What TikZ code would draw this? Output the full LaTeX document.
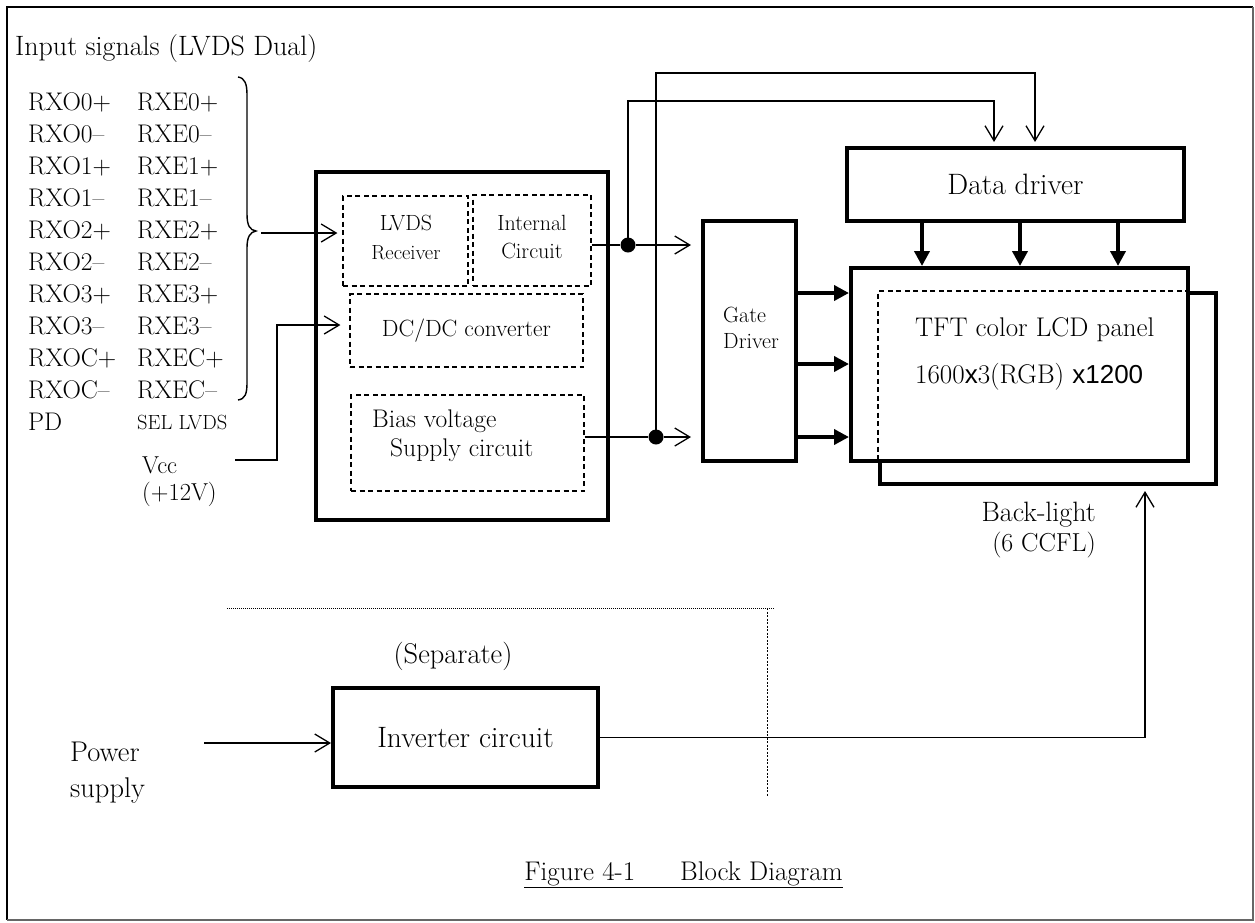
\documentclass[tikz,border=0pt]{standalone}
\usepackage{fontspec}
\newfontfamily\sansf{Liberation Sans}
\usetikzlibrary{arrows.meta,calc}
\newcommand\fsz[1]{\fontsize{#1}{#1}\selectfont}
\begin{document}
\begin{tikzpicture}[x=1pt,y=-1pt,
  txt/.style={inner sep=0pt, anchor=base west},
  ctxt/.style={inner sep=0pt, anchor=base},
  sig/.style={txt, font=\fsz{25.5}},
  thickbox/.style={draw, line width=4pt, inner sep=0pt, fill=white},
  dbox/.style={draw, line width=1.2pt, dash pattern=on 5pt off 3.5pt, inner sep=0pt},
  plain/.style={line width=1.3pt},
  conn/.style={line width=1.3pt, -{Straight Barb[length=15pt,width=18pt]}},
  fat/.style={line width=4pt, -{Triangle[length=15pt,width=15pt]}},
  jdot/.style={circle, fill, inner sep=0pt, minimum size=15pt},
  hid/.style={line width=1.2pt, dash pattern=on 5pt off 3.5pt}
]
\useasboundingbox (0,0) rectangle (1255,922);
% frame
\draw[line width=2.5pt] (1253,7) -- (7,7) -- (7,920);
\draw[line width=1.5pt, black!60] (1253,7) -- (1253,920) -- (7,920);

% input signals
\node[txt, font=\fsz{28}] (title) at (15,55) {Input signals (LVDS Dual)};
\foreach \s [count=\i from 0] in {0+,0--,1+,1--,2+,2--,3+,3--,C+,C--} {
  \node[sig] (ro\i) at (28,110+32*\i) {RXO\s};
  \node[sig] (re\i) at (137,110+32*\i) {RXE\s};
}
\node[sig] (pd) at (28,430) {PD};
\node[txt, font=\fsz{20.5}] (sel) at (137,429) {SEL LVDS};
\node[txt, font=\fsz{24.5}] (vcc) at (142,473) {Vcc};
\node[txt, font=\fsz{24.5}] (v12) at (142,500) {(+12V)};

% brace
\draw[line width=1.4pt] (238,77) .. controls (245,78) and (247,84) .. (247,95)
  -- (247,214) .. controls (247,226) and (250,230) .. (256,231)
  .. controls (250,232) and (247,237) .. (247,248)
  -- (247,383) .. controls (247,394) and (245,399) .. (238,400);
\coordinate (bt) at (261,233);

% main box
\node[thickbox, minimum width=292pt, minimum height=348pt] (main) at (462,346) {};
\node[dbox, minimum width=125pt, minimum height=90pt] (lvds) at (405.5,241) {};
\node[dbox, minimum width=118pt, minimum height=91pt] (intc) at (532,240.5) {};
\node[dbox, minimum width=233pt, minimum height=73pt, font=\fsz{23.5}] (dcdc) at (466.5,330.5) {DC/DC converter};
\node[dbox, minimum width=233pt, minimum height=96pt] (bias) at (467.5,443) {};
\node[ctxt, font=\fsz{22}] (tl1) at (406,230.5) {LVDS};
\node[ctxt, font=\fsz{20.5}] (tl2) at (406,259.5) {Receiver};
\node[ctxt, font=\fsz{22}] (ti1) at (532,230) {Internal};
\node[ctxt, font=\fsz{22}] (ti2) at (532,258.5) {Circuit};
\node[txt, font=\fsz{25.5}] (tb1) at (372,427.5) {Bias voltage};
\node[txt, font=\fsz{25.5}] (tb2) at (390,456.5) {Supply circuit};

% gate driver, data driver, panel
\node[thickbox, minimum width=93pt, minimum height=240pt] (gate) at (749.5,341) {};
\node[txt, font=\fsz{22}] (tg1) at (723,322.5) {Gate};
\node[txt, font=\fsz{22}] (tg2) at (723,348.5) {Driver};
\node[thickbox, minimum width=337pt, minimum height=73pt, font=\fsz{29.5}] (data) at (1015.5,184.5) {Data driver};
\node[thickbox, minimum width=336pt, minimum height=191pt] (blight) at (1048,388.5) {};
\node[thickbox, minimum width=337pt, minimum height=193pt] (tft) at (1019.5,364.5) {};
\draw[hid] (tft.east |- blight.north) -- (blight.north west) -- (blight.west |- tft.south);
\node[txt, font=\fsz{27}] (tt1) at (915,336.5) {TFT color LCD panel};
\node[txt, font=\fsz{27}] (tt2) at (915,383.5) {1600{\sansf\fsz{26}x}3(RGB) {\sansf\fsz{26}x1200}};
\node[txt, font=\fsz{28}, anchor=base east] (bl1) at (1096,521) {Back-light};
\node[txt, font=\fsz{26}, anchor=base east] (bl2) at (1096,551.5) {(6 CCFL)};

% connectors from inputs
\draw[conn, shorten >=5pt] (bt) -- (lvds.west |- bt);
\coordinate (vs) at (235,460);
\coordinate (vk) at (277,325);
\draw[conn, shorten >=9pt] (vs) -| (vk) -- (dcdc.west |- vk);

% junctions
\node[jdot] (d1) at (628,245) {};
\node[jdot] (d2) at (656,437) {};
\draw[plain] (intc.east |- d1) -- (d1);
\draw[plain] (bias.east |- d2) -- (d2);
\draw[conn, shorten >=10pt] (d1) -- (gate.west |- d1);
\draw[conn, shorten >=10pt] (d2) -- (gate.west |- d2);
\coordinate (ta1) at (994,101);
\coordinate (ta2) at (1035,73);
\draw[conn, shorten >=4pt] (d1.center) |- (ta1) -- (data.north -| ta1);
\draw[conn, shorten >=4pt] (d2.center) |- (ta2) -- (data.north -| ta2);

% gate and data arrows
\foreach \yy [count=\j] in {293,364,437} {
  \coordinate (gy\j) at (0,\yy);
  \draw[fat] (gate.east |- gy\j) -- (tft.west |- gy\j);
}
\foreach \xx [count=\j] in {922,1020,1118} {
  \coordinate (dx\j) at (\xx,0);
  \draw[fat] (data.south -| dx\j) -- (tft.north -| dx\j);
}

% separate section
\draw[line width=1pt, dash pattern=on 1pt off 1pt] (227,608) -- (775,608);
\draw[line width=0.9pt, dash pattern=on 2pt off 1.5pt] (767,608) -- (767,797);
\node[ctxt, font=\fsz{28.5}] (sep) at (453,663) {(Separate)};
\node[thickbox, minimum width=265pt, minimum height=99pt, font=\fsz{29.5}] (inv) at (465.5,737.5) {Inverter circuit};
\node[txt, font=\fsz{28.5}] (pw1) at (70,761) {Power};
\node[txt, font=\fsz{28.5}] (pw2) at (70,797) {supply};
\coordinate (ps) at (204,743);
\draw[conn] (ps) -- (inv.west |- ps);
\coordinate (bk) at (1145,0);
\draw[conn, shorten >=5pt] (inv.east) -| (blight.south -| bk);

% caption
\node[ctxt, font=\fsz{27}] (cap) at (683.5,880) {\underline{Figure 4-1\hspace{45pt}Block Diagram}};
\end{tikzpicture}
\end{document}
